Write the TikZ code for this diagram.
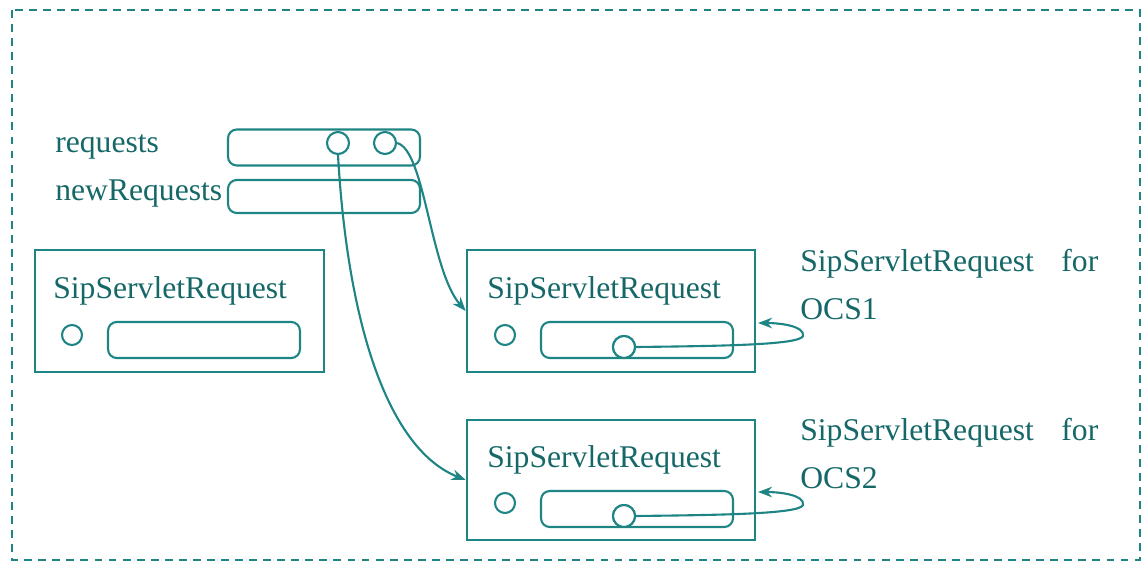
\documentclass[tikz,border=0pt]{standalone}
\usepackage{fontspec}
\setmainfont{Liberation Serif}
\usetikzlibrary{arrows.meta}
\definecolor{ink}{RGB}{30,132,132}
\definecolor{txt}{RGB}{22,104,104}
\tikzset{
  lbl/.style={anchor=base west,inner sep=0pt,text=txt,font=\fontsize{18}{26.8}\selectfont},
  objbox/.style={draw=ink,line width=1.2pt,minimum width=5.77cm,minimum height=2.43cm,inner sep=0pt},
  slot/.style={draw=ink,line width=1.2pt,rounded corners=5pt,minimum width=3.84cm,minimum height=0.72cm,inner sep=0pt},
  ref/.style={circle,draw=ink,line width=1.2pt,fill=white,minimum size=0.44cm,inner sep=0pt},
  field/.style={circle,draw=ink,line width=1.2pt,minimum size=0.4cm,inner sep=0pt},
  link/.style={draw=ink,line width=1.2pt,-{Stealth[length=8pt,width=6pt]}}
}
\begin{document}
\begin{tikzpicture}[x=0.02cm,y=-0.02cm]
\useasboundingbox (0,0) rectangle (1147,565);
% outer frame
\draw[ink,line width=1.2pt,dash pattern=on 4.5pt off 3.5pt] (12,10) rectangle (1140,560);

% list fields
\node[lbl] (lreq) at (55,152) {requests};
\node[lbl] (lnew) at (55,200) {newRequests};
\node[slot] (req) at (324,147.5) {};
\node[slot,minimum height=0.66cm] (newreq) at (324,196.5) {};

% request objects
\node[objbox] (obj0) at (179.5,311) {};
\node[objbox] (obj1) at (611,311) {};
\node[objbox,minimum height=2.4cm] (obj2) at (611,480) {};

\node[lbl] (t0) at (53,298) {SipServletRequest};
\node[lbl] (t1) at (487,298) {SipServletRequest};
\node[lbl] (t2) at (487,467) {SipServletRequest};

\node[field] (f0) at (72,335) {};
\node[field] (f1) at (505,335) {};
\node[field] (f2) at (505,503) {};

\node[slot] (s0) at (204,340) {};
\node[slot] (s1) at (637,340) {};
\node[slot] (s2) at (637,509) {};

% captions (the base anchor sits on the last line)
\node[lbl,align=left] (c1) at (800,319) {\hbox to 5.96cm{SipServletRequest\hfill for}\\OCS1};
\node[lbl,align=left] (c2) at (800,488) {\hbox to 5.96cm{SipServletRequest\hfill for}\\OCS2};

% references
\node[ref] (r1) at (338,143) {};
\node[ref] (r2) at (385,143) {};
\node[ref] (p1) at (624,347) {};
\node[ref] (p2) at (624,516) {};

\coordinate (a1) at (758,323);
\coordinate (a2) at (758,492);

\draw[link] (r2.east) .. controls (425,150) and (430,270) .. (obj1.west);
\draw[link] (r1.south) .. controls (348,330) and (390,450) .. (obj2.west);
\draw[link] (p1.east) .. controls (720,346) and (800,345) .. (803,336) .. controls (805,326) and (780,323) .. (a1);
\draw[link] (p2.east) .. controls (720,515) and (800,514) .. (803,505) .. controls (805,495) and (780,492) .. (a2);
\node[ref] at (p1) {};
\node[ref] at (p2) {};
\end{tikzpicture}
\end{document}
